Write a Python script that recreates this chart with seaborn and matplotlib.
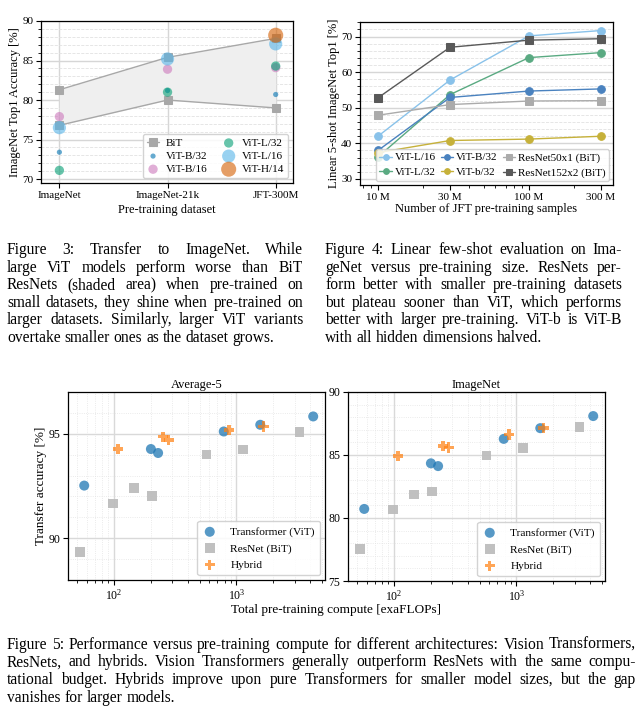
import numpy as np
import pandas as pd
import matplotlib
matplotlib.use("Agg")
import matplotlib.pyplot as plt
import seaborn as sns
from matplotlib.ticker import MultipleLocator, LogLocator, NullFormatter, FixedLocator

# ---------------- Figure 3 data ----------------
datasets = ["ImageNet", "ImageNet-21k", "JFT-300M"]
bit_upper = [81.3, 85.4, 87.8]
bit_lower = [76.8, 80.0, 79.0]
vit_b32 = [73.4, 81.2, 80.7]
vit_b16 = [77.9, 83.9, 84.1]
vit_l32 = [71.1, 81.0, 84.3]
vit_l16 = [76.5, 85.2, 87.1]
vit_h14 = [np.nan, np.nan, 88.2]

# ---------------- Figure 4 data ----------------
jft_sizes_m = [10, 30, 100, 300]
jft_tick_labels = ["10 M", "30 M", "100 M", "300 M"]
fs_vit_l16 = [42.0, 57.8, 70.2, 71.7]
fs_vit_l32 = [36.2, 53.7, 64.1, 65.5]
fs_vit_b32 = [38.0, 52.9, 54.7, 55.3]
fs_vit_b32_half = [37.4, 40.8, 41.2, 42.0]
fs_r50x1 = [47.9, 50.9, 51.9, 52.0]
fs_r152x2 = [52.8, 67.0, 69.0, 69.4]

# ---------------- Figure 5 data ----------------
vit_flops = [57, 200, 229, 788, 1567, 4245]
vit_avg5 = [92.52, 94.27, 94.08, 95.11, 95.43, 95.83]
vit_inet = [80.72, 84.34, 84.12, 86.28, 87.13, 88.09]
bit_flops = [52.5, 98, 145, 204, 570, 1138, 3278]
bit_avg5 = [89.33, 91.67, 92.40, 92.02, 94.01, 94.24, 95.08]
bit_inet = [77.53, 80.66, 81.86, 82.10, 84.97, 85.56, 87.21]
hyb_flops = [108, 252, 280, 873, 1669]
hyb_avg5 = [94.27, 94.86, 94.70, 95.18, 95.35]
hyb_inet = [84.92, 85.72, 85.59, 86.62, 87.13]

# ---------------- Captions ----------------
cap3 = ["Figure 3:  Transfer to ImageNet.    While",
        "large ViT models perform worse than BiT",
        "ResNets (shaded area) when pre-trained on",
        "small datasets, they shine when pre-trained on",
        "larger datasets.  Similarly, larger ViT variants",
        "overtake smaller ones as the dataset grows."]
cap4 = ["Figure 4:  Linear few-shot evaluation on Ima-",
        "geNet versus pre-training size.  ResNets per-",
        "form better with smaller pre-training datasets",
        "but plateau sooner than ViT, which performs",
        "better with larger pre-training. ViT-b is ViT-B",
        "with all hidden dimensions halved."]
cap5 = ["Figure 5: Performance versus pre-training compute for different architectures: Vision Transformers,",
        "ResNets, and hybrids.  Vision Transformers generally outperform ResNets with the same compu-",
        "tational budget.  Hybrids improve upon pure Transformers for smaller model sizes, but the gap",
        "vanishes for larger models."]

sns.set_theme(style="ticks")
SERIF = ["Liberation Serif", "DejaVu Serif"]
plt.rcParams["font.family"] = SERIF
plt.rcParams["mathtext.fontset"] = "stix"
plt.rcParams["axes.edgecolor"] = "black"
plt.rcParams["axes.linewidth"] = 0.9
plt.rcParams["xtick.color"] = "black"
plt.rcParams["ytick.color"] = "black"
plt.rcParams["text.color"] = "black"
plt.rcParams["axes.labelcolor"] = "black"

W, H = 643, 715
fig = plt.figure(figsize=(W / 100, H / 100), dpi=100)


def rect(x0, y0, x1, y1):
    return [x0 / W, 1 - y1 / H, (x1 - x0) / W, (y1 - y0) / H]


def style_ticks(ax, fs):
    ax.tick_params(axis="both", which="major", direction="out", length=3.5, width=0.8,
                   labelsize=fs, pad=2)
    ax.tick_params(axis="both", which="minor", direction="out", length=2, width=0.6)
    for s in ax.spines.values():
        s.set_visible(True)
        s.set_color("black")


# ================= Figure 3 =================
ax3 = fig.add_axes(rect(41, 21, 293, 183))
xpos = np.arange(len(datasets))
ax3.fill_between(xpos, bit_lower, bit_upper, color="#efefef", zorder=1, lw=0)
sns.lineplot(x=xpos, y=bit_upper, ax=ax3, color="#a8a8a8", marker="s", lw=1,
             markersize=5.5, markeredgecolor="#a8a8a8", label="BiT", zorder=2)
sns.lineplot(x=xpos, y=bit_lower, ax=ax3, color="#a8a8a8", marker="s", lw=1,
             markersize=5.5, markeredgecolor="#a8a8a8", zorder=2)
vit_series = [("ViT-B/32", vit_b32, "#0173b2", 14),
              ("ViT-B/16", vit_b16, "#cc78bc", 45),
              ("ViT-L/32", vit_l32, "#029e73", 45),
              ("ViT-L/16", vit_l16, "#56b4e9", 90),
              ("ViT-H/14", vit_h14, "#d55e00", 118)]
for name, vals, col, sz in vit_series:
    d = pd.DataFrame({"x": xpos, "y": vals}).dropna()
    sns.scatterplot(data=d, x="x", y="y", ax=ax3, color=col, s=sz, alpha=0.6,
                    edgecolor="none", label=name, zorder=3)
ax3.set_xlim(-0.17, 2.16)
ax3.set_ylim(69.5, 90)
ax3.set_xticks(xpos)
ax3.set_xticklabels(datasets)
ax3.set_yticks([70, 75, 80, 85, 90])
ax3.yaxis.set_minor_locator(MultipleLocator(1))
ax3.grid(which="major", color="#d6d6d6", lw=1.0, zorder=0)
ax3.grid(which="minor", axis="y", color="#e2e2e2", lw=0.6, ls="--", zorder=0)
ax3.set_axisbelow(True)
style_ticks(ax3, 8)
ax3.set_xlabel("Pre-training dataset", fontsize=9, labelpad=3)
ax3.set_ylabel("ImageNet Top1 Accuracy [%]", fontsize=9, labelpad=1)
ax3.legend(ncol=2, loc="lower right", fontsize=8, frameon=True, framealpha=0.85,
           edgecolor="#cccccc", handlelength=1.15, handletextpad=0.6,
           columnspacing=1.3, labelspacing=0.3, borderaxespad=0.45, borderpad=0.35)

# ================= Figure 4 =================
ax4 = fig.add_axes(rect(360, 22, 613, 185))
ax4.set_xscale("log")
fs_series = [("ViT-L/16", fs_vit_l16, "#89c2ea", "o"),
             ("ViT-L/32", fs_vit_l32, "#5aaa82", "o"),
             ("ViT-B/32", fs_vit_b32, "#4a82bf", "o"),
             ("ViT-b/32", fs_vit_b32_half, "#c6b13a", "o"),
             ("ResNet50x1 (BiT)", fs_r50x1, "#ababab", "s"),
             ("ResNet152x2 (BiT)", fs_r152x2, "#595959", "s")]
for name, vals, col, mk in fs_series:
    sns.lineplot(x=jft_sizes_m, y=vals, ax=ax4, color=col, marker=mk, lw=1.0,
                 markersize=5.5, markeredgecolor=col, label=name)
ax4.set_xlim(7.6, 360)
ax4.set_ylim(28.3, 74.1)
ax4.xaxis.set_major_locator(FixedLocator(jft_sizes_m))
ax4.set_xticklabels(jft_tick_labels)
ax4.xaxis.set_minor_locator(LogLocator(base=10, subs=np.arange(2, 10)))
ax4.xaxis.set_minor_formatter(NullFormatter())
ax4.set_yticks([30, 40, 50, 60, 70])
ax4.yaxis.set_minor_locator(MultipleLocator(2))
ax4.grid(which="major", axis="y", color="#d6d6d6", lw=1.0)
ax4.grid(which="minor", axis="y", color="#e2e2e2", lw=0.6, ls="--")
ax4.grid(which="both", axis="x", visible=False)
ax4.set_axisbelow(True)
style_ticks(ax4, 8)
ax4.set_xlabel("Number of JFT pre-training samples", fontsize=9, labelpad=1)
ax4.set_ylabel("Linear 5-shot ImageNet Top1 [%]", fontsize=9, labelpad=1)
ax4.legend(ncol=3, loc="lower right", fontsize=8, frameon=True, framealpha=0.85,
           edgecolor="#cccccc", handlelength=1.1, handletextpad=0.25, markerscale=0.75,
           columnspacing=0.5, labelspacing=0.45, borderaxespad=0.35, borderpad=0.3)

# ================= Figure 5 =================
ax5a = fig.add_axes(rect(68, 392, 325, 580))
ax5b = fig.add_axes(rect(348, 392, 605, 581))
panels = [(ax5a, "Average-5", vit_avg5, bit_avg5, hyb_avg5, (88, 97), [90, 95]),
          (ax5b, "ImageNet", vit_inet, bit_inet, hyb_inet, (75, 90), [75, 80, 85, 90])]
for ax, title, vy, by, hy, ylim, yt in panels:
    ax.set_xscale("log")
    sns.scatterplot(x=vit_flops, y=vy, ax=ax, marker="o", s=52, color="#1f77b4",
                    alpha=0.75, edgecolor="none", label="Transformer (ViT)", zorder=3)
    sns.scatterplot(x=bit_flops, y=by, ax=ax, marker="s", s=48, color="#bdbdbd",
                    alpha=0.95, edgecolor="none", label="ResNet (BiT)", zorder=3)
    sns.scatterplot(x=hyb_flops, y=hy, ax=ax, marker="P", s=55, color="#ff7f0e",
                    alpha=0.7, edgecolor="none", label="Hybrid", zorder=3)
    ax.set_xlim(42, 5300)
    ax.set_ylim(*ylim)
    ax.set_yticks(yt)
    ax.yaxis.set_minor_locator(MultipleLocator(1))
    ax.xaxis.set_major_locator(LogLocator(base=10, numticks=10))
    ax.xaxis.set_minor_locator(LogLocator(base=10, subs=np.arange(2, 10), numticks=20))
    ax.xaxis.set_minor_formatter(NullFormatter())
    ax.grid(which="major", color="#d9d9d9", lw=1.0)
    ax.grid(which="minor", color="#e4e4e4", lw=0.6, ls=":")
    ax.set_axisbelow(True)
    style_ticks(ax, 8.5)
    ax.tick_params(axis="y", which="minor", length=0)
    ax.set_title(title, fontsize=9, pad=3)
    ax.set_xlabel("")
    ax.set_ylabel("")
    ax.legend(loc="lower right", fontsize=8.2, frameon=True, framealpha=0.85,
              edgecolor="#cccccc", handlelength=1.2, handletextpad=1.2,
              labelspacing=0.55, borderaxespad=0.4, borderpad=0.5)
ax5a.set_ylabel("Transfer accuracy [%]", fontsize=9.5, labelpad=1)
fig.text(336 / W, 1 - 610 / H, "Total pre-training compute [exaFLOPs]", fontsize=9.5,
         ha="center", va="center")

# ================= Captions (justified) =================
fig.canvas.draw()
renderer = fig.canvas.get_renderer()


def justify(lines, x0, x1, baselines, fs):
    for i, (line, yb) in enumerate(zip(lines, baselines)):
        words = line.split()
        objs = [fig.text(0, 1 - yb / H, w, fontsize=fs, va="baseline", ha="left")
                for w in words]
        widths = [o.get_window_extent(renderer).width for o in objs]
        natural_sp = 0.25 * fs * 100 / 72
        if i == len(lines) - 1 or len(words) == 1:
            sp = natural_sp
        else:
            sp = (x1 - x0 - sum(widths)) / (len(words) - 1)
        x = x0
        for o, w in zip(objs, widths):
            o.set_x(x / W)
            x += w + sp


base34 = [254.5, 272, 289.5, 307, 324.5, 342]
justify(cap3, 7, 303, base34, 11.2)
justify(cap4, 325, 622, base34, 11.2)
justify(cap5, 7, 636, [649, 666.5, 684, 701.5], 11.2)

fig.savefig("out.png", dpi=100)
